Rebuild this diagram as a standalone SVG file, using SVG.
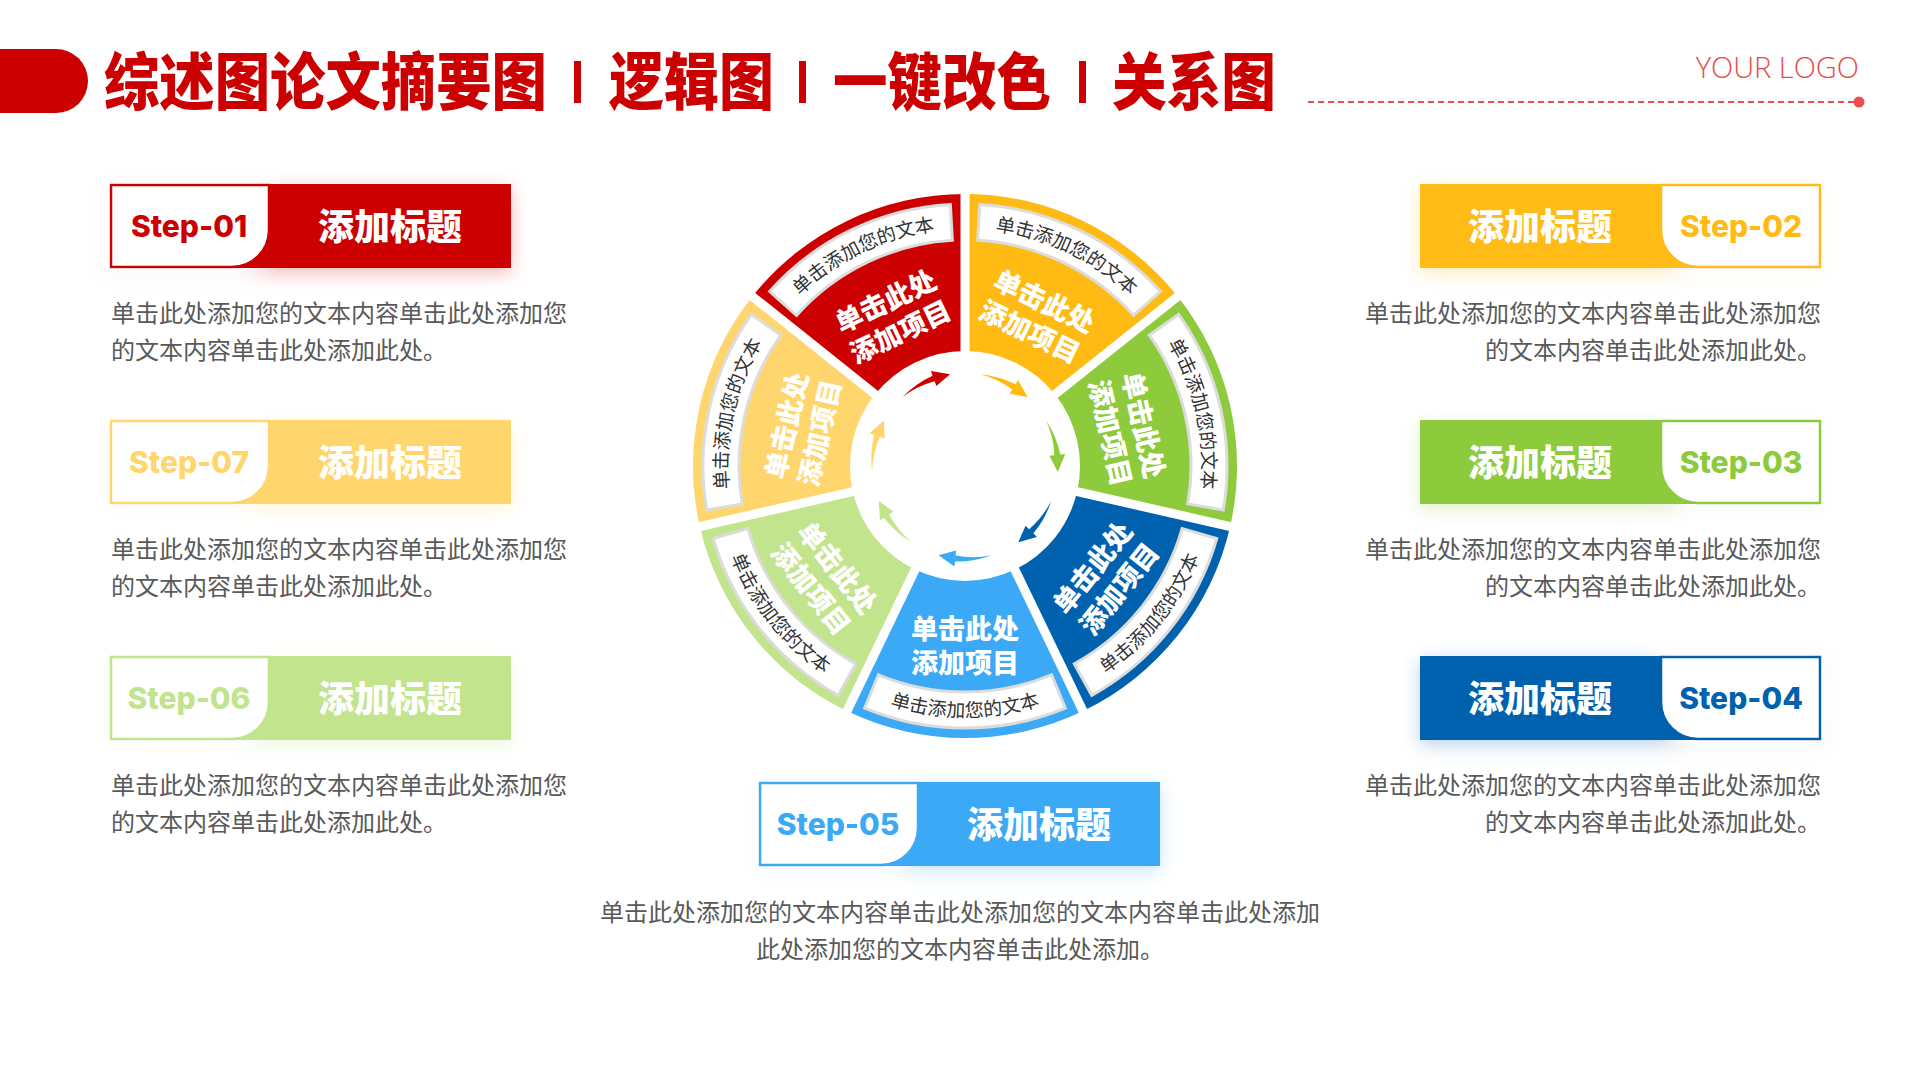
<svg xmlns="http://www.w3.org/2000/svg" xmlns:xlink="http://www.w3.org/1999/xlink" width="1920" height="1080" viewBox="0 0 1920 1080">
<defs>
<style>
.cjk{font-family:"Noto Sans CJK SC","Noto Sans",sans-serif}
.title{font-family:"Noto Sans CJK SC",sans-serif;font-size:62px;font-weight:900;fill:#CC0000}
.desc{font-family:"Noto Sans CJK SC",sans-serif;font-size:24px;fill:#595959}
.step{font-family:Inter,"Liberation Sans",sans-serif;font-size:30px;font-weight:800;text-anchor:middle}
.head{font-family:"Noto Sans CJK SC",sans-serif;font-size:36px;font-weight:900;fill:#fff;text-anchor:middle}
.segtxt{font-family:"Noto Sans CJK SC",sans-serif;font-size:27px;font-weight:900;fill:#fff;text-anchor:middle;dominant-baseline:central}
.strip{fill:#fff;stroke:#dcdcdc;stroke-width:3}
.striptxt{font-family:"Noto Sans CJK SC",sans-serif;font-size:19px;fill:#333;text-anchor:middle}
.gap{stroke:#fff;stroke-width:9}
</style>
<filter id="glow" x="-20%" y="-40%" width="140%" height="190%">
<feGaussianBlur in="SourceGraphic" stdDeviation="9" result="b"/>
<feColorMatrix in="b" type="matrix" values="1 0 0 0 0  0 1 0 0 0  0 0 1 0 0  0 0 0 0.28 0" result="c"/>
<feOffset in="c" dy="5" result="o"/>
<feMerge><feMergeNode in="o"/><feMergeNode in="SourceGraphic"/></feMerge>
</filter>
<path id="sector" d="M846.98,220.94 A272,272 0 0 1 1083.02,220.94 L1014.90,362.39 A115,115 0 0 0 915.10,362.39 Z"/>
<path id="stripShape" d="M864.69,223.96 A262,262 0 0 1 1065.31,223.96 L1051.52,257.22 A226,226 0 0 0 878.48,257.22 Z"/>
<path id="arrowShape" d="M938.59,376.83 A96,96 0 0 1 975.03,370.53 L975.56,365.55 L991.41,376.83 L973.89,381.47 L974.41,376.49 A90,90 0 0 0 938.59,376.83 Z"/>
<path id="tpTop" d="M868.60,249.49 A237,237 0 0 1 1061.40,249.49" fill="none"/>
<path id="tpBot" d="M862.91,695.30 A251,251 0 0 0 1067.09,695.30" fill="none"/>
</defs>
<rect width="1920" height="1080" fill="#fff"/>

<g id="header">
<path d="M0,49 H56 A32,32 0 0 1 88,81 A32,32 0 0 1 56,113 H0 Z" fill="#CC0000"/>
<text class="title" x="104" y="105" textLength="443" lengthAdjust="spacingAndGlyphs">综述图论文摘要图</text>
<rect x="574" y="61" width="7" height="42" fill="#CC0000"/>
<text class="title" x="609" y="105" textLength="165" lengthAdjust="spacingAndGlyphs">逻辑图</text>
<rect x="799" y="61" width="7" height="42" fill="#CC0000"/>
<text class="title" x="833" y="105" textLength="218" lengthAdjust="spacingAndGlyphs">一键改色</text>
<rect x="1079" y="61" width="7" height="42" fill="#CC0000"/>
<text class="title" x="1112" y="105" textLength="164" lengthAdjust="spacingAndGlyphs">关系图</text>
<text x="1859" y="78" text-anchor="end" font-family="'Open Sans','Liberation Sans',sans-serif" font-weight="300" font-size="29" fill="#E64A4A">YOUR LOGO</text>
<line x1="1308" y1="102" x2="1855" y2="102" stroke="#E85050" stroke-width="2" stroke-dasharray="6 4"/>
<circle cx="1859" cy="102" r="5.5" fill="#F04E4E"/>
</g>

<g id="ring">
<g id="seg-red" transform="rotate(-25.714 965 466)">
<use href="#sector" fill="#CC0000"/><use href="#stripShape" class="strip"/>
<text class="striptxt"><textPath href="#tpTop" startOffset="50%">单击添加您的文本</textPath></text>
<text class="segtxt"><tspan x="965" y="281">单击此处</tspan><tspan x="965" y="315">添加项目</tspan></text>
</g>
<g id="seg-amber" transform="rotate(25.714 965 466)">
<use href="#sector" fill="#FFBB13"/><use href="#stripShape" class="strip"/>
<text class="striptxt"><textPath href="#tpTop" startOffset="50%">单击添加您的文本</textPath></text>
<text class="segtxt"><tspan x="965" y="281">单击此处</tspan><tspan x="965" y="315">添加项目</tspan></text>
</g>
<g id="seg-green" transform="rotate(77.143 965 466)">
<use href="#sector" fill="#8DCB3C"/><use href="#stripShape" class="strip"/>
<text class="striptxt"><textPath href="#tpTop" startOffset="50%">单击添加您的文本</textPath></text>
<text class="segtxt"><tspan x="965" y="281">单击此处</tspan><tspan x="965" y="315">添加项目</tspan></text>
</g>
<g id="seg-darkblue">
<g transform="rotate(128.571 965 466)"><use href="#sector" fill="#0062AF"/><use href="#stripShape" class="strip"/></g>
<g transform="rotate(-51.429 965 466)">
<text class="striptxt"><textPath href="#tpBot" startOffset="50%">单击添加您的文本</textPath></text>
<text class="segtxt"><tspan x="965" y="627">单击此处</tspan><tspan x="965" y="661">添加项目</tspan></text>
</g>
</g>
<g id="seg-lightblue">
<g transform="rotate(180 965 466)"><use href="#sector" fill="#3BA9F6"/><use href="#stripShape" class="strip"/></g>
<text class="striptxt"><textPath href="#tpBot" startOffset="50%">单击添加您的文本</textPath></text>
<text class="segtxt"><tspan x="965" y="627">单击此处</tspan><tspan x="965" y="661">添加项目</tspan></text>
</g>
<g id="seg-lightgreen">
<g transform="rotate(231.429 965 466)"><use href="#sector" fill="#C1E48C"/><use href="#stripShape" class="strip"/></g>
<g transform="rotate(51.429 965 466)">
<text class="striptxt"><textPath href="#tpBot" startOffset="50%">单击添加您的文本</textPath></text>
<text class="segtxt"><tspan x="965" y="627">单击此处</tspan><tspan x="965" y="661">添加项目</tspan></text>
</g>
</g>
<g id="seg-yellow" transform="rotate(-77.143 965 466)">
<use href="#sector" fill="#FFD66E"/><use href="#stripShape" class="strip"/>
<text class="striptxt"><textPath href="#tpTop" startOffset="50%">单击添加您的文本</textPath></text>
<text class="segtxt"><tspan x="965" y="281">单击此处</tspan><tspan x="965" y="315">添加项目</tspan></text>
</g>
</g>

<g id="connectors">
<g class="gap">
<line x1="965" y1="352" x2="965" y2="186"/>
<line x1="965" y1="352" x2="965" y2="186" transform="rotate(51.429 965 466)"/>
<line x1="965" y1="352" x2="965" y2="186" transform="rotate(102.857 965 466)"/>
<line x1="965" y1="352" x2="965" y2="186" transform="rotate(154.286 965 466)"/>
<line x1="965" y1="352" x2="965" y2="186" transform="rotate(205.714 965 466)"/>
<line x1="965" y1="352" x2="965" y2="186" transform="rotate(257.143 965 466)"/>
<line x1="965" y1="352" x2="965" y2="186" transform="rotate(308.571 965 466)"/>
</g>
<use href="#arrowShape" fill="#CC0000" transform="rotate(-25.714 965 466)"/>
<use href="#arrowShape" fill="#FFBB13" transform="rotate(25.714 965 466)"/>
<use href="#arrowShape" fill="#8DCB3C" transform="rotate(77.143 965 466)"/>
<use href="#arrowShape" fill="#0062AF" transform="rotate(128.571 965 466)"/>
<use href="#arrowShape" fill="#3BA9F6" transform="rotate(180 965 466)"/>
<use href="#arrowShape" fill="#C1E48C" transform="rotate(231.429 965 466)"/>
<use href="#arrowShape" fill="#FFD66E" transform="rotate(282.857 965 466)"/>
</g>

<g id="step-01">
<g transform="translate(110 184)">
<g filter="url(#glow)"><rect width="401" height="84" fill="#CC0000"/><path d="M1,1 H159 V46 A37,37 0 0 1 122,83 H1 Z" fill="#fff" stroke="#CC0000" stroke-width="2.5"/></g>
<text class="step" x="79" y="53" fill="#CC0000">Step-01</text>
<text class="head" x="280" y="56">添加标题</text>
</g>
<text class="desc" x="111" y="322">单击此处添加您的文本内容单击此处添加您</text>
<text class="desc" x="111" y="359">的文本内容单击此处添加此处。</text>
</g>

<g id="step-07">
<g transform="translate(110 420)">
<g filter="url(#glow)"><rect width="401" height="84" fill="#FFD66E"/><path d="M1,1 H159 V46 A37,37 0 0 1 122,83 H1 Z" fill="#fff" stroke="#FFD66E" stroke-width="2.5"/></g>
<text class="step" x="79" y="53" fill="#FFD66E">Step-07</text>
<text class="head" x="280" y="56">添加标题</text>
</g>
<text class="desc" x="111" y="558">单击此处添加您的文本内容单击此处添加您</text>
<text class="desc" x="111" y="595">的文本内容单击此处添加此处。</text>
</g>

<g id="step-06">
<g transform="translate(110 656)">
<g filter="url(#glow)"><rect width="401" height="84" fill="#C1E48C"/><path d="M1,1 H159 V46 A37,37 0 0 1 122,83 H1 Z" fill="#fff" stroke="#C1E48C" stroke-width="2.5"/></g>
<text class="step" x="79" y="53" fill="#C1E48C">Step-06</text>
<text class="head" x="280" y="56">添加标题</text>
</g>
<text class="desc" x="111" y="794">单击此处添加您的文本内容单击此处添加您</text>
<text class="desc" x="111" y="831">的文本内容单击此处添加此处。</text>
</g>

<g id="step-02">
<g transform="translate(1420 184)">
<g filter="url(#glow)"><rect width="401" height="84" fill="#FFBB13"/><path d="M241,1 H400 V83 H278 A37,37 0 0 1 241,46 Z" fill="#fff" stroke="#FFBB13" stroke-width="2.5"/></g>
<text class="head" x="120" y="56">添加标题</text>
<text class="step" x="321" y="53" fill="#FFBB13">Step-02</text>
</g>
<text class="desc" x="1821" y="322" text-anchor="end">单击此处添加您的文本内容单击此处添加您</text>
<text class="desc" x="1821" y="359" text-anchor="end">的文本内容单击此处添加此处。</text>
</g>

<g id="step-03">
<g transform="translate(1420 420)">
<g filter="url(#glow)"><rect width="401" height="84" fill="#8DCB3C"/><path d="M241,1 H400 V83 H278 A37,37 0 0 1 241,46 Z" fill="#fff" stroke="#8DCB3C" stroke-width="2.5"/></g>
<text class="head" x="120" y="56">添加标题</text>
<text class="step" x="321" y="53" fill="#8DCB3C">Step-03</text>
</g>
<text class="desc" x="1821" y="558" text-anchor="end">单击此处添加您的文本内容单击此处添加您</text>
<text class="desc" x="1821" y="595" text-anchor="end">的文本内容单击此处添加此处。</text>
</g>

<g id="step-04">
<g transform="translate(1420 656)">
<g filter="url(#glow)"><rect width="401" height="84" fill="#0062AF"/><path d="M241,1 H400 V83 H278 A37,37 0 0 1 241,46 Z" fill="#fff" stroke="#0062AF" stroke-width="2.5"/></g>
<text class="head" x="120" y="56">添加标题</text>
<text class="step" x="321" y="53" fill="#0062AF">Step-04</text>
</g>
<text class="desc" x="1821" y="794" text-anchor="end">单击此处添加您的文本内容单击此处添加您</text>
<text class="desc" x="1821" y="831" text-anchor="end">的文本内容单击此处添加此处。</text>
</g>

<g id="step-05">
<g transform="translate(759 782)">
<g filter="url(#glow)"><rect width="401" height="84" fill="#3BA9F6"/><path d="M1,1 H159 V46 A37,37 0 0 1 122,83 H1 Z" fill="#fff" stroke="#3BA9F6" stroke-width="2.5"/></g>
<text class="step" x="79" y="53" fill="#3BA9F6">Step-05</text>
<text class="head" x="280" y="56">添加标题</text>
</g>
<text class="desc" x="960" y="921" text-anchor="middle">单击此处添加您的文本内容单击此处添加您的文本内容单击此处添加</text>
<text class="desc" x="960" y="958" text-anchor="middle">此处添加您的文本内容单击此处添加。</text>
</g>
</svg>
